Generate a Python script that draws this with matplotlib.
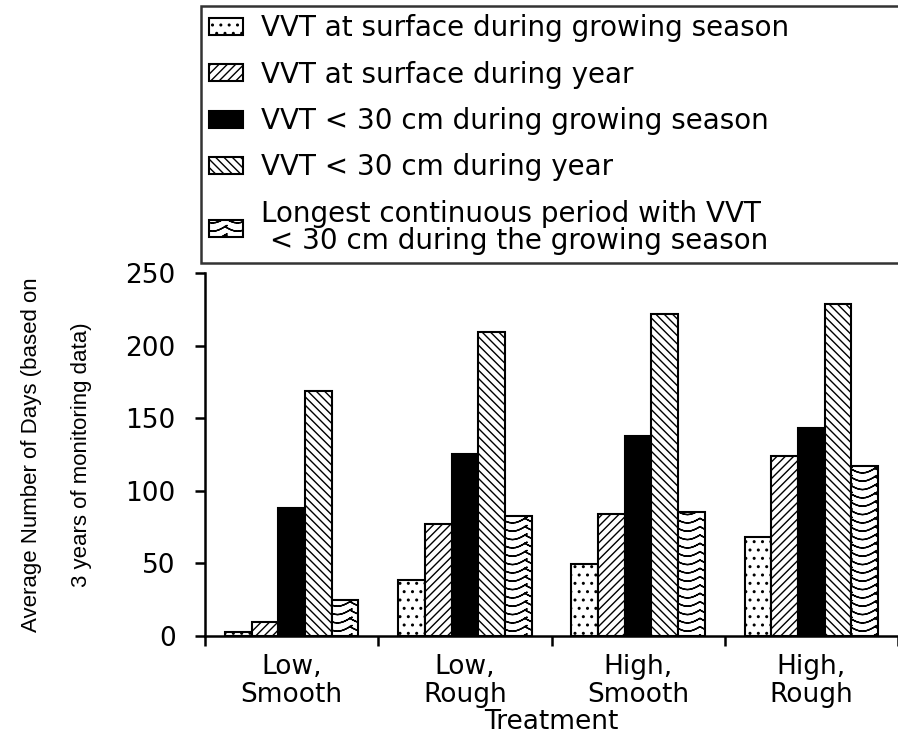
import numpy as np
import matplotlib
matplotlib.use("Agg")
import matplotlib.pyplot as plt
import matplotlib.hatch as mhatch
from matplotlib.path import Path

# data
treatments = ["Low,\nSmooth", "Low,\nRough", "High,\nSmooth", "High,\nRough"]
series_names = [
    "VVT at surface during growing season",
    "VVT at surface during year",
    "VVT < 30 cm during growing season",
    "VVT < 30 cm during year",
    "Longest continuous period with VVT\n < 30 cm during the growing season",
]
surface_growing = [2.5, 38.7, 49.7, 67.9]
surface_year = [9.9, 77.0, 84.0, 123.8]
below30_growing = [88.2, 125.5, 137.7, 143.2]
below30_year = [169.0, 209.5, 221.7, 228.6]
longest_period = [24.9, 82.4, 85.4, 116.9]
yticks = [0, 50, 100, 150, 200, 250]


# stacked arcs hatch, put in place of the large circles one ('O')
# each arc goes out and back on itself so the agg fill adds nothing
class ArcHatch(mhatch.HatchPatternBase):
    npts = 9

    def __init__(self, hatch, density):
        self.num_rows = hatch.count('O') * density
        self.num_cols = max(self.num_rows // 3, 1)
        self.num_vertices = self.num_rows * self.num_cols * (2 * self.npts - 1)

    def set_vertices_and_codes(self, vertices, codes):
        t = np.linspace(0, 1, self.npts)
        t = np.concatenate([t, t[-2::-1]])
        n = len(t)
        w = 1.0 / self.num_cols
        h = 0.55 / self.num_rows
        k = 0
        for r in range(self.num_rows):
            y0 = (r + 0.8) / self.num_rows
            for c in range(self.num_cols):
                vertices[k:k + n, 0] = c * w + t * w
                vertices[k:k + n, 1] = y0 - h * np.sin(np.pi * t)
                codes[k] = Path.MOVETO
                codes[k + 1:k + n] = Path.LINETO
                k += n


mhatch._hatch_types[mhatch._hatch_types.index(mhatch.LargeCircles)] = ArcHatch

plt.rcParams['font.family'] = ['DejaVu Sans']
plt.rcParams['hatch.linewidth'] = 1.0

fig = plt.figure(figsize=(8.98, 7.44), dpi=100)
ax = fig.add_axes([205 / 898, 1 - 636 / 744, 693 / 898, 363 / 744])

values = [surface_growing, surface_year, below30_growing, below30_year, longest_period]
hatches = ['..', '////', '', '\\\\\\\\', 'OO']
faces = ['white', 'white', 'black', 'white', 'white']
x = np.arange(len(treatments))
w = 0.154
for i, (vals, name) in enumerate(zip(values, series_names)):
    ax.bar(x + (i - 2) * w, vals, w, color=faces[i], edgecolor='black',
           hatch=hatches[i], linewidth=1.5, label=name)

ax.set_xlim(-0.5, 3.46)
ax.set_ylim(0, 250)
ax.set_yticks(yticks)
ax.set_xticks(x)
ax.set_xticklabels(treatments, fontsize=19, linespacing=1.1)
ax.set_xticks(np.arange(-0.5, 4, 1), minor=True)
ax.tick_params(axis='x', which='major', length=0, pad=13)
ax.tick_params(axis='x', which='minor', length=7, width=1.8, direction='out')
ax.tick_params(axis='y', length=7, width=1.8, direction='out', labelsize=19, pad=14)
for s in ['top', 'right']:
    ax.spines[s].set_visible(False)
for s in ['left', 'bottom']:
    ax.spines[s].set_linewidth(1.8)

ax.set_xlabel("Treatment", fontsize=19, labelpad=1)
ax.set_ylabel("Average Number of Days (based on\n3 years of monitoring data)",
              family='Liberation Sans', fontsize=16, linespacing=2.8, labelpad=24)

leg = fig.legend(loc='upper left', bbox_to_anchor=(201 / 898, 1 - 6 / 744, 720 / 898, 0),
                 mode='expand', fontsize=20, frameon=True, fancybox=False, shadow=False,
                 labelspacing=0.66, handlelength=1.2, handleheight=0.55,
                 handletextpad=0.65, borderaxespad=0, borderpad=0.3)
for t in leg.get_texts():
    t.set_linespacing(0.95)
leg.get_frame().set_edgecolor('black')
leg.get_frame().set_linewidth(1.8)

fig.savefig("out.png", dpi=100)
